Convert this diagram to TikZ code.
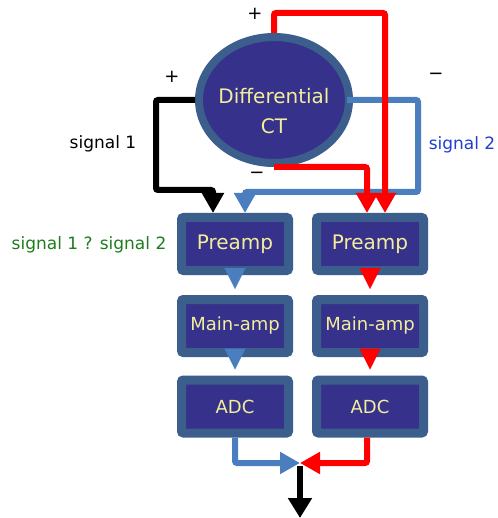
\documentclass[tikz,border=0pt]{standalone}
\usepackage{fontspec}
\setmainfont{DejaVu Sans}
\usetikzlibrary{arrows.meta,shapes.geometric}
\definecolor{frameblue}{HTML}{3B5E8C}
\definecolor{boxfill}{HTML}{36318A}
\definecolor{labelyellow}{HTML}{F3EE9C}
\definecolor{wireblue}{HTML}{4A7EBF}
\definecolor{textblue}{HTML}{1F3FD0}
\definecolor{textgreen}{HTML}{1E7B1E}

\begin{document}
\begin{tikzpicture}[x=1pt,y=-1pt,
    stage/.style={draw=frameblue,line width=9pt,fill=boxfill,rounded corners=2pt,
        minimum width=107pt,minimum height=53pt,inner sep=0pt,text=labelyellow},
    wire/.style={line width=6pt,rounded corners=2pt},
    tip/.style={-{Triangle[length=20pt,width=21pt]}},
    hop/.style={line width=0.1pt,shorten >=6pt,-{Triangle[length=21pt,width=21pt]}},
    sign/.style={font=\fontsize{18}{20}\selectfont},
    caption/.style={font=\fontsize{17}{20}\selectfont}]
    \useasboundingbox (0,0) rectangle (497,518);
    \pgfmathsetmacro{\xl}{235};
    \pgfmathsetmacro{\xr}{370};
    % the differential CT
    \node [ellipse,draw=frameblue,line width=8pt,fill=boxfill,minimum width=150pt,minimum height=126pt] (ct) at (274,100) {};
    \node [text=labelyellow,align=center,font=\fontsize{20}{30}\selectfont] (ctname) at (274,111) {Differential\\CT};
    % two chains
    \node [stage,font=\fontsize{20}{24}\selectfont] (pre1) at (\xl,244) {Preamp};
    \node [stage,font=\fontsize{20}{24}\selectfont] (pre2) at (\xr,244) {Preamp};
    \node [stage,font=\fontsize{18}{22}\selectfont] (main1) at (\xl,326) {Main-amp};
    \node [stage,font=\fontsize{18}{22}\selectfont] (main2) at (\xr,326) {Main-amp};
    \node [stage,font=\fontsize{18}{22}\selectfont] (adc1) at (\xl,406.5) {ADC};
    \node [stage,font=\fontsize{18}{22}\selectfont] (adc2) at (\xr,406.5) {ADC};
    \draw [hop,wireblue] (pre1.south) -- (main1.north);
    \draw [hop,wireblue] (main1.south) -- (adc1.north);
    \draw [hop,red] (pre2.south) -- (main2.north);
    \draw [hop,red] (main2.south) -- (adc2.north);
    % wires from the CT
    \draw [wire,black,tip] (ct.west) -| (156,190) -| ([xshift=-22pt]pre1.north);
    \draw [wire,wireblue,tip] ([xshift=-6pt]ct.east) -| (418,192) -| ([xshift=10pt]pre1.north);
    \draw [wire,red,tip] (ct.north) |- (385,13) -- ([xshift=15pt]pre2.north);
    \draw [wire,red,tip] (ct.south) -| ([xshift=-3pt]pre2.north);
    % output
    \coordinate (mix) at (300,463);
    \coordinate (out) at (300,518);
    \draw [wire,wireblue,tip] (adc1.south) |- (mix);
    \draw [wire,red,tip] ([xshift=-3pt]adc2.south) |- (mix);
    \draw [wire,black,-{Triangle[length=20pt,width=23pt]}] ([yshift=-3pt]mix) -- (out);
    % labels
    \node [sign] (plustop) at (255,14) {+};
    \node [sign] (plusleft) at (172,77) {+};
    \node [sign] (minusright) at (436,76) {−};
    \node [sign] (minusbottom) at (257,175) {−};
    \node [caption] (sigone) at (103,144) {signal 1};
    \node [caption,text=textblue] (sigtwo) at (462,145) {signal 2};
    \node [caption,text=textgreen] (sigboth) at (89,245) {signal 1 ? signal 2};
\end{tikzpicture}
\end{document}
